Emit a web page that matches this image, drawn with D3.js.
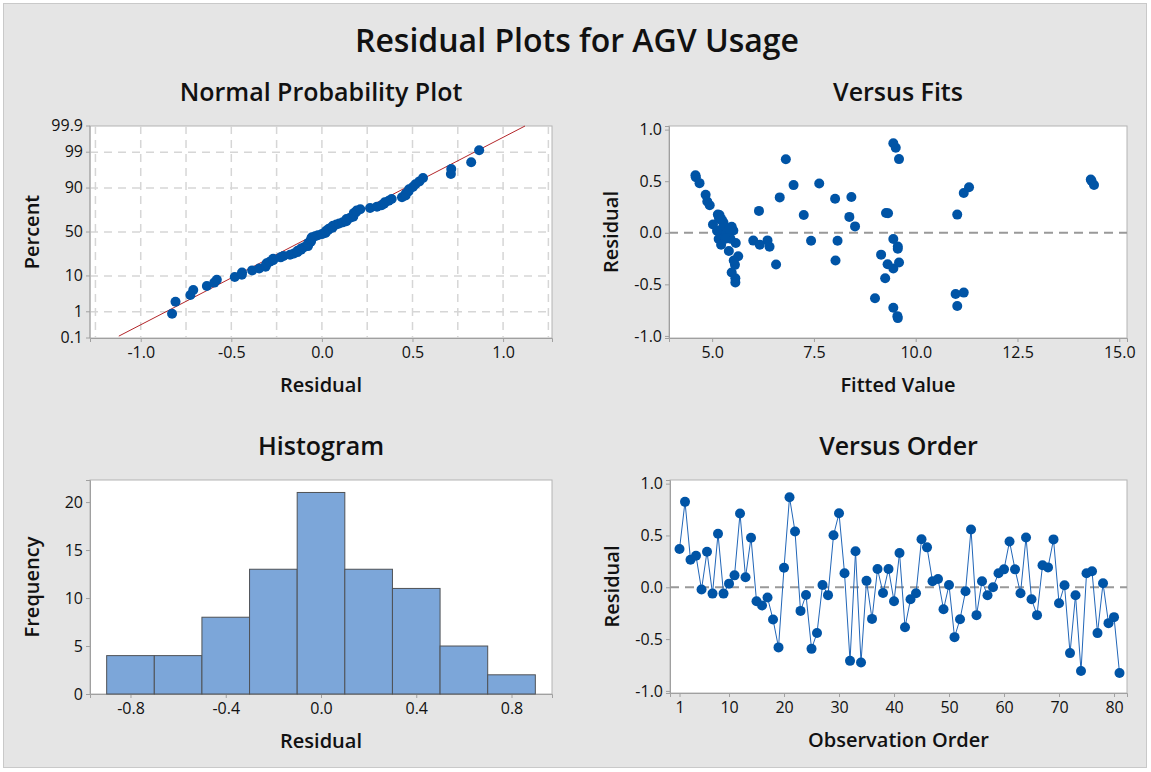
<!DOCTYPE html>
<html>
<head>
<meta charset="utf-8">
<script src="https://cdn.jsdelivr.net/npm/d3@7"></script>
<style>
  body { margin: 0; background: #fff; }
  text { font-family: "Open Sans", "Noto Sans", sans-serif; fill: #111; }
  .tick text { font-size: 16px; }
</style>
</head>
<body>
<script>
// residuals in observation order
var residuals = [
  0.369, 0.824, 0.266, 0.304, -0.022, 0.343, -0.061, 0.516, -0.061, 0.035,
  0.115, 0.712, 0.096, 0.478, -0.135, -0.176, -0.099, -0.311, -0.580, 0.189,
  0.868, 0.538, -0.228, -0.074, -0.594, -0.441, 0.022, -0.076, 0.502, 0.714,
  0.136, -0.710, 0.347, -0.726, 0.062, -0.305, 0.176, -0.055, 0.176, -0.134,
  0.330, -0.385, -0.115, -0.058, 0.463, 0.385, 0.058, 0.080, -0.212, 0.022,
  -0.481, -0.308, -0.038, 0.558, -0.269, 0.058, -0.077, 0.000, 0.135, 0.173,
  0.442, 0.173, -0.058, 0.481, -0.115, -0.269, 0.212, 0.192, 0.462, -0.154,
  0.019, -0.635, -0.077, -0.808, 0.135, 0.154, -0.442, 0.038, -0.346, -0.288,
  -0.827
];

// fitted values, same order
var fittedValues = [
  4.84, 9.51, 4.94, 4.88, 5.40, 6.66, 5.16, 14.30, 9.45, 5.23,
  5.25, 6.81, 5.28, 7.63, 6.41, 5.41, 5.58, 5.56, 11.18, 9.32,
  9.45, 4.60, 5.64, 6.36, 10.98, 9.25, 5.52, 6.01, 14.32, 9.59,
  5.20, 11.02, 8.42, 9.45, 8.51, 9.31, 11.02, 5.19, 5.14, 9.56,
  8.02, 5.48, 6.17, 5.45, 14.38, 11.18, 5.48, 5.02, 9.15, 5.38,
  5.57, 6.57, 5.30, 4.59, 8.03, 5.30, 8.08, 5.35, 5.17, 7.25,
  11.31, 5.18, 5.33, 4.69, 5.22, 5.53, 6.15, 9.27, 7.00, 9.56,
  5.12, 9.00, 7.43, 9.55, 5.22, 8.37, 5.57, 5.42, 9.45, 9.59,
  9.56
];

// histogram
var binStarts = [-0.9, -0.7, -0.5, -0.3, -0.1, 0.1, 0.3, 0.5, 0.7];
var binCounts = [4, 4, 8, 13, 21, 13, 11, 5, 2];
var binWidth = 0.2;

// tick labels
var percentTicks = [0.1, 1, 10, 50, 90, 99, 99.9];
var probXTicks = [-1.0, -0.5, 0.0, 0.5, 1.0];
var probXGrid = [-1.25, -1.0, -0.75, -0.5, -0.25, 0, 0.25, 0.5, 0.75, 1.0, 1.25];
var residTicks = [-1.0, -0.5, 0.0, 0.5, 1.0];
var fitsTicks = [5.0, 7.5, 10.0, 12.5, 15.0];
var histXTicks = [-0.8, -0.4, 0.0, 0.4, 0.8];
var histYTicks = [0, 5, 10, 15, 20];
var orderTicks = [1, 10, 20, 30, 40, 50, 60, 70, 80];

// reference normal line
var fitMean = -0.01, fitSd = 0.366;

var blue = "#0054a6";

// inverse normal cdf (Acklam)
function probit(p) {
  var a = [-39.69683028665376, 220.9460984245205, -275.9285104469687, 138.3577518672690, -30.66479806614716, 2.506628277459239];
  var b = [-54.47609879822406, 161.5858368580409, -155.6989798598866, 66.80131188771972, -13.28068155288572];
  var c = [-0.007784894002430293, -0.3223964580411365, -2.400758277161838, -2.549732539343734, 4.374664141464968, 2.938163982698783];
  var d = [0.007784695709041462, 0.3224671290700398, 2.445134137142996, 3.754408661907416];
  var q, r;
  if (p < 0.02425) {
    q = Math.sqrt(-2 * Math.log(p));
    return (((((c[0]*q+c[1])*q+c[2])*q+c[3])*q+c[4])*q+c[5]) / ((((d[0]*q+d[1])*q+d[2])*q+d[3])*q+1);
  } else if (p > 1 - 0.02425) {
    q = Math.sqrt(-2 * Math.log(1 - p));
    return -(((((c[0]*q+c[1])*q+c[2])*q+c[3])*q+c[4])*q+c[5]) / ((((d[0]*q+d[1])*q+d[2])*q+d[3])*q+1);
  }
  q = p - 0.5; r = q * q;
  return (((((a[0]*r+a[1])*r+a[2])*r+a[3])*r+a[4])*r+a[5])*q / (((((b[0]*r+b[1])*r+b[2])*r+b[3])*r+b[4])*r+1);
}

// plain hyphen for negatives, like the original
function fmt(spec) {
  var f = d3.format(spec);
  return function(v) { return f(v).replace("\u2212", "-"); };
}
var f1 = fmt(".1f");

var svg = d3.select("body").append("svg")
    .attr("width", 1151)
    .attr("height", 772);

// gray page
svg.append("rect")
    .attr("x", 3.5).attr("y", 3.5)
    .attr("width", 1143).attr("height", 764)
    .attr("fill", "#e5e5e5")
    .attr("stroke", "#c9c9c9");

svg.append("text")
    .attr("x", 577).attr("y", 52)
    .attr("text-anchor", "middle")
    .style("font-size", "32px").style("font-weight", 600)
    .text("Residual Plots for AGV Usage");

function styleAxis(a) {
  a.select(".domain").attr("stroke", "#a0a0a0");
  a.selectAll(".tick line").attr("stroke", "#a0a0a0");
  a.selectAll(".tick text").attr("fill", "#111");
}

// one panel: white box, axes, titles; returns the group
function panel(box, x, y, title, xLabel, yLabel, xTicks, yTicks, xFmt, yFmt) {
  var g = svg.append("g");
  g.append("rect")
      .attr("x", box.x0).attr("y", box.y0)
      .attr("width", box.x1 - box.x0).attr("height", box.y1 - box.y0)
      .attr("fill", "#fff")
      .attr("stroke", "#b4b4b4");

  var xa = g.append("g")
      .attr("transform", "translate(0," + box.y1 + ")")
      .call(d3.axisBottom(x).tickValues(xTicks).tickFormat(xFmt).tickSize(4).tickPadding(5));
  styleAxis(xa);
  if (y) {
    var ya = g.append("g")
        .attr("transform", "translate(" + box.x0 + ",0)")
        .call(d3.axisLeft(y).tickValues(yTicks).tickFormat(yFmt).tickSize(4).tickPadding(3));
    styleAxis(ya);
  }

  var cx = (box.x0 + box.x1) / 2, cy = (box.y0 + box.y1) / 2;
  g.append("text")
      .attr("x", cx).attr("y", box.y0 - 25)
      .attr("text-anchor", "middle")
      .style("font-size", "25px").style("font-weight", 600)
      .text(title);
  g.append("text")
      .attr("x", cx).attr("y", box.y1 + 54)
      .attr("text-anchor", "middle")
      .style("font-size", "20px").style("font-weight", 600)
      .text(xLabel);
  g.append("text")
      .attr("transform", "translate(" + (box.x0 - 51) + "," + cy + ") rotate(-90)")
      .attr("text-anchor", "middle")
      .style("font-size", "20px").style("font-weight", 600)
      .text(yLabel);
  return g;
}

// ---- Normal probability plot ----
var probBox = {x0: 90, x1: 552, y0: 126, y1: 338};
var px = d3.scaleLinear().domain([-1.28, 1.27]).range([probBox.x0, probBox.x1]);
var py = d3.scaleLinear().domain([probit(0.001), probit(0.999)]).range([probBox.y1, probBox.y0]);
function pyPct(v) { return py(probit(v / 100)); }
var probG = panel(probBox, px, null, "Normal Probability Plot", "Residual", "Percent", probXTicks, null, f1, null);

var grid = probG.insert("g", "g");
grid.selectAll(".gx").data(probXGrid).enter().append("line")
    .attr("x1", function(d) { return px(d); }).attr("x2", function(d) { return px(d); })
    .attr("y1", probBox.y0).attr("y2", probBox.y1);
grid.selectAll(".gy").data(percentTicks.slice(1, 6)).enter().append("line")
    .attr("x1", probBox.x0).attr("x2", probBox.x1)
    .attr("y1", function(d) { return pyPct(d); }).attr("y2", function(d) { return pyPct(d); });
grid.selectAll("line")
    .attr("stroke", "#d6d6d6").attr("stroke-width", 1.5).attr("stroke-dasharray", "8,6");

// percent axis on the normal-quantile scale
var pctAxis = probG.append("g").attr("transform", "translate(" + probBox.x0 + ",0)");
pctAxis.append("line")
    .attr("y1", probBox.y0).attr("y2", probBox.y1)
    .attr("stroke", "#a0a0a0");
var pt = pctAxis.selectAll(".pt").data(percentTicks).enter().append("g")
    .attr("transform", function(d) { return "translate(0," + pyPct(d) + ")"; });
pt.append("line").attr("x2", -4).attr("stroke", "#a0a0a0");
pt.append("text").attr("x", -7).attr("dy", "0.32em")
    .attr("text-anchor", "end").style("font-size", "16px")
    .text(function(d) { return d; });

probG.append("line")
    .attr("x1", px(fitMean + fitSd * probit(0.0012))).attr("y1", py(probit(0.0012)))
    .attr("x2", px(fitMean + fitSd * probit(0.999))).attr("y2", py(probit(0.999)))
    .attr("stroke", "#b3262a").attr("stroke-width", 1);

var sorted = residuals.slice().sort(d3.ascending);
var n = sorted.length;
probG.selectAll(".pp").data(sorted).enter().append("circle")
    .attr("cx", function(d) { return px(d); })
    .attr("cy", function(d, i) { return py(probit((i + 1 - 0.3) / (n + 0.4))); })
    .attr("r", 5).attr("fill", blue);

// ---- Versus fits ----
var fitsBox = {x0: 669, x1: 1127, y0: 126, y1: 338};
var fx = d3.scaleLinear().domain([3.94, 15.19]).range([fitsBox.x0, fitsBox.x1]);
var fy = d3.scaleLinear().domain([-1.02, 1.035]).range([fitsBox.y1, fitsBox.y0]);
var fitsG = panel(fitsBox, fx, fy, "Versus Fits", "Fitted Value", "Residual", fitsTicks, residTicks, f1, f1);
fitsG.append("line")
    .attr("x1", fitsBox.x0).attr("x2", fitsBox.x1)
    .attr("y1", fy(0)).attr("y2", fy(0))
    .attr("stroke", "#999").attr("stroke-width", 2).attr("stroke-dasharray", "9,6");
fitsG.selectAll(".fp").data(residuals).enter().append("circle")
    .attr("cx", function(d, i) { return fx(fittedValues[i]); })
    .attr("cy", function(d) { return fy(d); })
    .attr("r", 5).attr("fill", blue);

// ---- Histogram ----
var histBox = {x0: 90, x1: 552, y0: 480, y1: 694};
var hx = d3.scaleLinear().domain([-0.97, 0.97]).range([histBox.x0, histBox.x1]);
var hy = d3.scaleLinear().domain([0, 22.3]).range([histBox.y1, histBox.y0]);
var histG = panel(histBox, hx, hy, "Histogram", "Residual", "Frequency", histXTicks, histYTicks, f1, fmt("d"));
histG.selectAll(".bar").data(binCounts).enter().append("rect")
    .attr("x", function(d, i) { return hx(binStarts[i]); })
    .attr("width", function(d, i) { return hx(binStarts[i] + binWidth) - hx(binStarts[i]); })
    .attr("y", function(d) { return hy(d); })
    .attr("height", function(d) { return hy(0) - hy(d); })
    .attr("fill", "#7ca6d9")
    .attr("stroke", "#4f5256").attr("stroke-width", 1);

// ---- Versus order ----
var orderBox = {x0: 670, x1: 1127, y0: 480, y1: 693};
var ox = d3.scaleLinear().domain([-0.73, 82.36]).range([orderBox.x0, orderBox.x1]);
var oy = d3.scaleLinear().domain([-1.02, 1.035]).range([orderBox.y1, orderBox.y0]);
var orderG = panel(orderBox, ox, oy, "Versus Order", "Observation Order", "Residual", orderTicks, residTicks, fmt("d"), f1);
orderG.append("line")
    .attr("x1", orderBox.x0).attr("x2", orderBox.x1)
    .attr("y1", oy(0)).attr("y2", oy(0))
    .attr("stroke", "#999").attr("stroke-width", 2).attr("stroke-dasharray", "9,6");
orderG.append("path")
    .datum(residuals)
    .attr("fill", "none")
    .attr("stroke", "#2166b8").attr("stroke-width", 1)
    .attr("d", d3.line()
      .x(function(d, i) { return ox(i + 1); })
      .y(function(d) { return oy(d); }));
orderG.selectAll(".op").data(residuals).enter().append("circle")
    .attr("cx", function(d, i) { return ox(i + 1); })
    .attr("cy", function(d) { return oy(d); })
    .attr("r", 5).attr("fill", blue);
</script>
</body>
</html>
